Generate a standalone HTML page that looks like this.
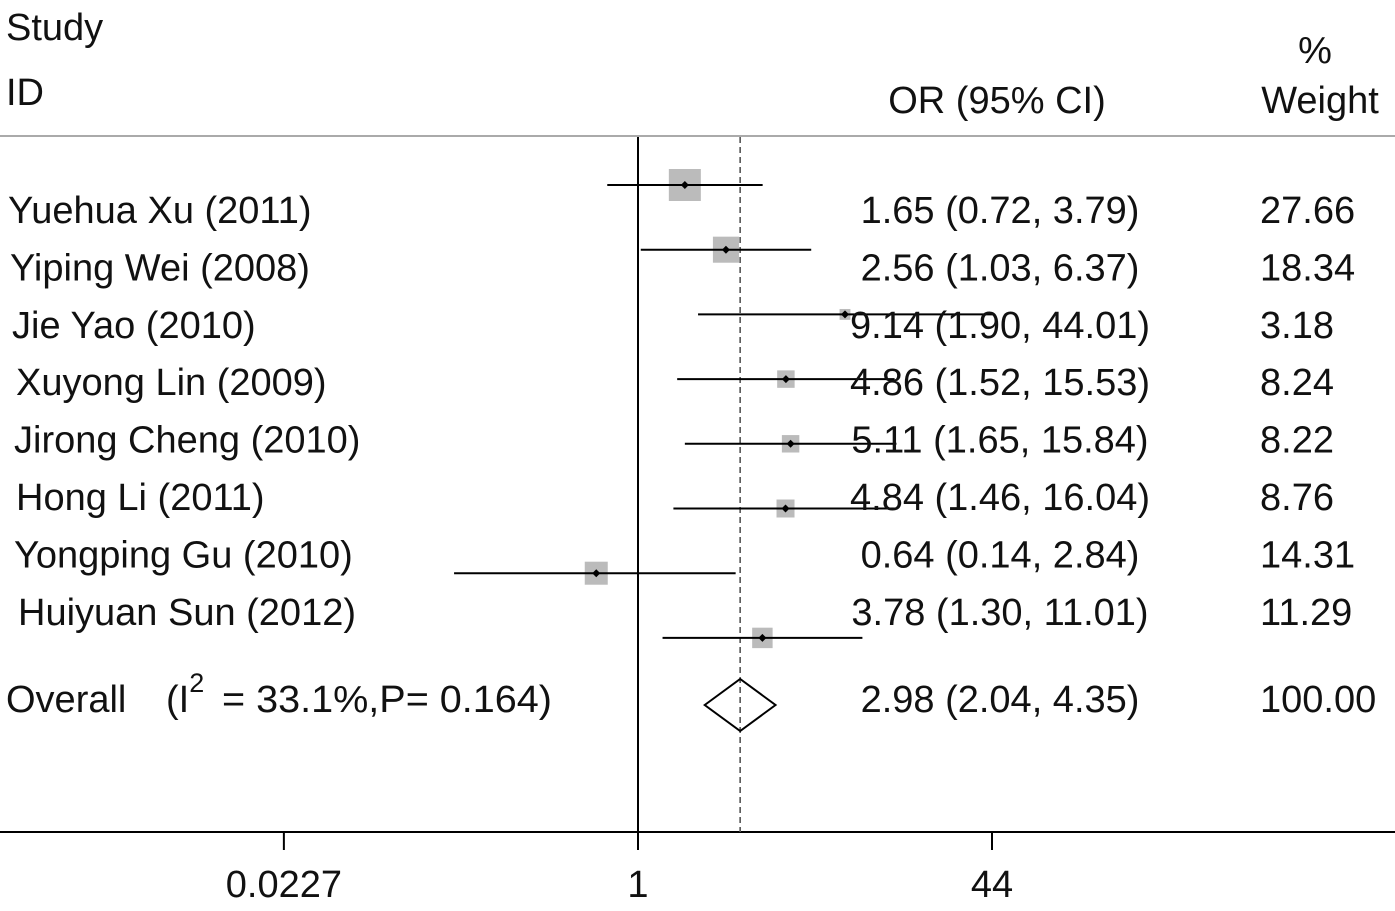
<!DOCTYPE html>
<html><head><meta charset="utf-8"><style>
html,body{margin:0;padding:0;background:#fff;}
svg{display:block;font-family:"Liberation Sans",Arial,sans-serif;}
</style></head><body>
<svg id="chart" width="1395" height="911" viewBox="0 0 1395 911">
<g id="static" font-size="38" fill="#111">
<text x="6" y="40">Study</text>
<text x="6" y="105">ID</text>
<text x="997" y="113" text-anchor="middle">OR (95% CI)</text>
<text x="1315" y="63" text-anchor="middle">%</text>
<text x="1320" y="113" text-anchor="middle">Weight</text>
<line x1="0" y1="136" x2="1395" y2="136" stroke="#aaa" stroke-width="2"/>
<line x1="0" y1="832" x2="1395" y2="832" stroke="#000" stroke-width="2"/>
<text x="6" y="712">Overall</text>
<text x="166" y="712">(I<tspan dy="-20" font-size="27">2</tspan></text>
<text x="222" y="712" textLength="330" lengthAdjust="spacingAndGlyphs">= 33.1%,P= 0.164)</text>
</g>
<g id="marks"></g>
</svg>
<script>
const studies=["Yuehua Xu (2011)","Yiping Wei (2008)","Jie Yao (2010)","Xuyong Lin (2009)","Jirong Cheng (2010)","Hong Li (2011)","Yongping Gu (2010)","Huiyuan Sun (2012)"];
const orVals=[1.65,2.56,9.14,4.86,5.11,4.84,0.64,3.78];
const lowerVals=[0.72,1.03,1.90,1.52,1.65,1.46,0.14,1.30];
const upperVals=[3.79,6.37,44.01,15.53,15.84,16.04,2.84,11.01];
const weights=[27.66,18.34,3.18,8.24,8.22,8.76,14.31,11.29];
const overall=[2.98,2.04,4.35];
const overallWeight="100.00";
const tickVals=[0.0227,1,44];
const tickLabels=["0.0227","1","44"];

const NS="http://www.w3.org/2000/svg";
const g=document.getElementById('marks');
const x0=638, k=93.55;
const xs=v=>x0+Math.log(v)*k;
function mk(tag,attrs,txt){const e=document.createElementNS(NS,tag);for(const a in attrs)e.setAttribute(a,attrs[a]);if(txt!==undefined)e.textContent=txt;g.appendChild(e);return e;}
const fmt=v=>v.toFixed(2);
const labelX=[8,10,12,16,14,16,14,18];

let e=mk('line',{x1:x0,y1:137,x2:x0,y2:832,stroke:'#000','stroke-width':2});


e=mk('line',{x1:xs(overall[0]),y1:137,x2:xs(overall[0]),y2:832,stroke:'#555','stroke-width':1.6,'stroke-dasharray':'6,4'});



const maxSide=32;
studies.forEach((s,i)=>{
  const ym=185+i*64.7, yt=223+i*57.4;
  const side=maxSide*Math.sqrt(weights[i]/weights[0]);
  let r=mk('rect',{x:xs(orVals[i])-side/2,y:ym-side/2,width:side,height:side,fill:'#bbb'});
  
  
  let l=mk('line',{x1:xs(lowerVals[i]),y1:ym,x2:xs(upperVals[i]),y2:ym,stroke:'#000','stroke-width':2});
  
  
  let c=mk('path',{d:`M${xs(orVals[i])-4},${ym} l4,-4 l4,4 l-4,4 z`,fill:'#000'});
  
  
  let t=mk('text',{x:labelX[i],y:yt,'font-size':38,fill:'#111'},s);
  
  
  let o=mk('text',{x:1000,y:yt,'font-size':38,fill:'#111','text-anchor':'middle'},`${fmt(orVals[i])} (${fmt(lowerVals[i])}, ${fmt(upperVals[i])})`);
  
  
  let w=mk('text',{x:1260,y:yt,'font-size':38,fill:'#111'},fmt(weights[i]));
  
  
});
const yd=705;
e=mk('path',{d:`M${xs(overall[1])},${yd} L${xs(overall[0])},${yd-26} L${xs(overall[2])},${yd} L${xs(overall[0])},${yd+26} Z`,fill:'none',stroke:'#000','stroke-width':2});


e=mk('text',{x:1000,y:712,'font-size':38,fill:'#111','text-anchor':'middle'},`${fmt(overall[0])} (${fmt(overall[1])}, ${fmt(overall[2])})`);


e=mk('text',{x:1260,y:712,'font-size':38,fill:'#111'},overallWeight);


tickVals.forEach((v,i)=>{
  let t=mk('line',{x1:xs(v),y1:832,x2:xs(v),y2:850,stroke:'#000','stroke-width':2});
  
  
  let lb=mk('text',{x:xs(v),y:897,'font-size':38,fill:'#111','text-anchor':'middle'},tickLabels[i]);
  
  
});
</script>
</body></html>
